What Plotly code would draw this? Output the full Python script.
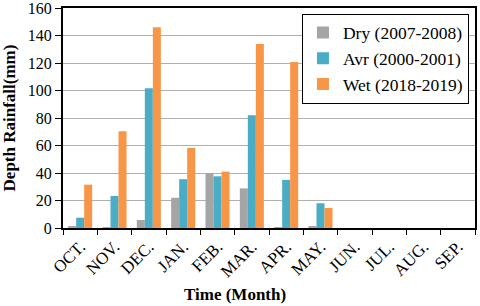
import plotly.graph_objects as go

months = ["OCT.", "NOV.", "DEC.", "JAN.", "FEB.", "MAR.", "APR.", "MAY.", "JUN.", "JUL.", "AUG.", "SEP."]
dry = [1.0, 0.5, 5.8, 22, 40, 28.8, 0.3, 1.0, 0, 0, 0, 0]
avr = [7.5, 23.3, 101.6, 35.5, 37.6, 82, 35, 18, 0, 0, 0, 0]
wet = [31.5, 70.4, 146, 58.2, 41, 133.8, 120.8, 14.6, 0, 0, 0, 0]
y_ticks = [0, 20, 40, 60, 80, 100, 120, 140, 160]

font_family = "Liberation Serif"

fig = go.Figure()
fig.add_trace(go.Bar(x=months, y=dry, name="Dry (2007-2008)", marker=dict(color="#a5a5a5", line=dict(width=0))))
fig.add_trace(go.Bar(x=months, y=avr, name="Avr (2000-2001)", marker=dict(color="#4bacc6", line=dict(width=0))))
fig.add_trace(go.Bar(x=months, y=wet, name="Wet (2018-2019)", marker=dict(color="#f79646", line=dict(width=0))))

fig.update_layout(
    width=480, height=306,
    margin=dict(l=63, r=5, t=8, b=78),
    paper_bgcolor="white", plot_bgcolor="white",
    barmode="group", bargap=0.3, bargroupgap=0,
    font=dict(family=font_family, color="black", size=15),
    legend=dict(
        x=0.58, y=0.975, xanchor="left", yanchor="top",
        bgcolor="white", bordercolor="black", borderwidth=1,
        font=dict(family=font_family, size=17.5, color="black"),
        itemwidth=30,
    ),
    showlegend=True,
    annotations=[dict(
        text="<b>Time (Month)</b>", xref="paper", yref="paper",
        x=0.417, y=-0.30, xanchor="center", yanchor="middle", showarrow=False,
        font=dict(family=font_family, size=17, color="black"),
    )],
)
fig.update_xaxes(
    type="category",
    automargin=False,
    tickangle=-45,
    tickson="boundaries",
    ticks="outside", ticklen=5, tickcolor="black",
    showline=True, linecolor="black", linewidth=2, mirror=True,
    showgrid=False,
    tickfont=dict(family=font_family, size=17, color="black"),
)
fig.update_yaxes(
    automargin=False,
    range=[0, 160],
    tickvals=y_ticks,
    ticklabeloverflow="allow",
    ticks="outside", ticklen=6, tickcolor="black",
    showline=True, linecolor="black", linewidth=2, mirror=True,
    showgrid=True, gridcolor="#b0b0b0", gridwidth=1,
    zeroline=False,
    tickfont=dict(family=font_family, size=16, color="black"),
    title=dict(text="<b>Depth Rainfall(mm)</b>", font=dict(family=font_family, size=17, color="black"), standoff=8),
)

fig.write_html(
    "out.html",
    config={"displayModeBar": False},
    post_script="document.body.style.margin='0';document.body.style.padding='0';",
)
